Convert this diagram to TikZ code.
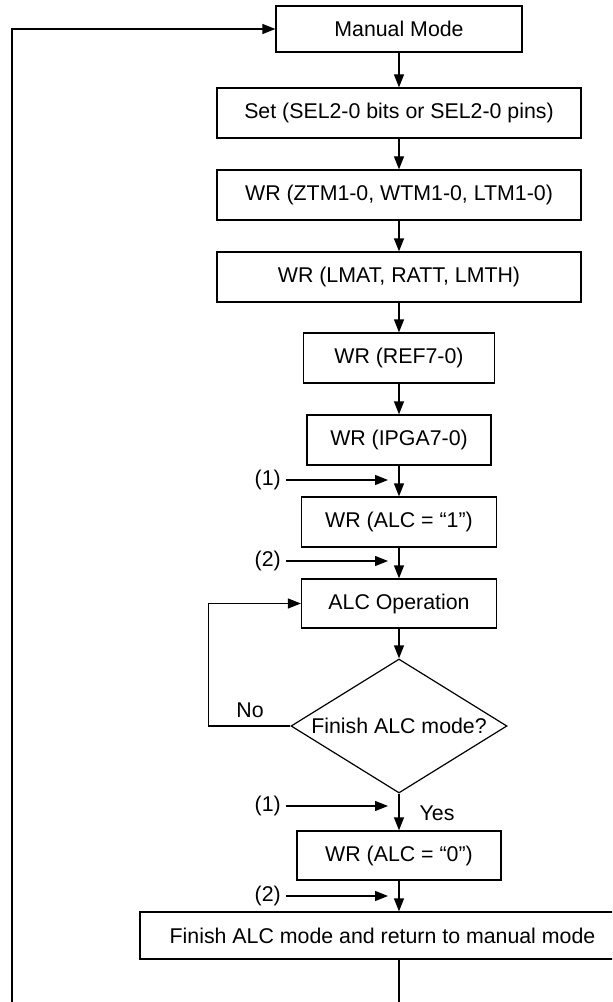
\documentclass[tikz,border=0pt]{standalone}
\usepackage{fontspec}
\setmainfont{Liberation Sans}
\usetikzlibrary{arrows.meta,shapes.geometric}
\begin{document}
\begin{tikzpicture}[x=0.75pt,y=-0.75pt,
  every node/.style={font=\fontsize{16}{19}\selectfont},
  box/.style={draw,line width=0.9pt,rectangle,inner sep=0pt,minimum height=37.5pt},
  arr/.style={line width=0.9pt,-{Triangle[length=9.75pt,width=7.5pt]}},
  ln/.style={line width=0.9pt},
  lbl/.style={inner sep=0pt,anchor=east}]
\useasboundingbox (0,0) rectangle (612,1002);
\clip (0,0) rectangle (612,1002);
\node[box,minimum width=184.5pt,minimum height=34.5pt] (manual) at (399,29) {Manual Mode};
\node[box,minimum width=273pt] (set) at (399,113) {Set (SEL2-0 bits or SEL2-0 pins)};
\node[box,minimum width=273pt] (ztm) at (399,195) {WR (ZTM1-0, WTM1-0, LTM1-0)};
\node[box,minimum width=273pt] (lmat) at (399,277) {WR (LMAT, RATT, LMTH)};
\node[box,minimum width=143.25pt] (ref) at (399,358) {WR (REF7-0)};
\node[box,minimum width=138pt] (ipga) at (399,440) {WR (IPGA7-0)};
\node[box,minimum width=146.25pt] (alc1) at (399,522) {WR (ALC = “1”)};
\node[box,minimum width=146.25pt,minimum height=36.75pt] (alcop) at (399,603.5) {ALC Operation};
\node[draw,line width=0.9pt,diamond,aspect=1.612,inner sep=0pt,minimum width=162pt,minimum height=100.5pt] (dia) at (399,726) {Finish ALC mode?};
\node[box,minimum width=153pt,minimum height=36.75pt] (wr0) at (399,855.5) {WR (ALC = “0”)};
\node[box,minimum width=363.75pt,minimum height=35.25pt] (fin) at (382.5,935.5) {Finish ALC mode and return to manual mode};

\draw[arr] (manual) -- (set);
\draw[arr] (set) -- (ztm);
\draw[arr] (ztm) -- (lmat);
\draw[arr] (lmat) -- (ref);
\draw[arr] (ref) -- (ipga);
\draw[arr] (ipga) -- (alc1);
\draw[arr] (alc1) -- (alcop);
\draw[arr] (alcop) -- (dia);
\draw[arr] (dia) -- (wr0);
\draw[arr] (wr0.south) -- (wr0.south |- fin.north);

% entry labels
\node[lbl] (l1a) at (281,480) {(1)};
\coordinate (t1a) at (388,480);
\draw[arr,shorten <=4pt] (l1a) -- (t1a);
\node[lbl] (l2a) at (281,561) {(2)};
\coordinate (t2a) at (388,561);
\draw[arr,shorten <=4pt] (l2a) -- (t2a);
\node[lbl] (l1b) at (281,806) {(1)};
\coordinate (t1b) at (388,806);
\draw[arr,shorten <=4pt] (l1b) -- (t1b);
\node[lbl] (l2b) at (281,896) {(2)};
\coordinate (t2b) at (388,896);
\draw[arr,shorten <=4pt] (l2b) -- (t2b);

% decision labels
\node (no) at (250,710) {No};
\node (yes) at (437,813) {Yes};

% No loop
\draw[arr] (dia.west) -- ++(-82,0) |- (alcop.west);

% return loop
\coordinate (b1) at (399,1012);
\coordinate (b2) at (12,1012);
\draw[arr] (fin.south -| wr0.south) -- (b1) -- (b2) |- (manual.west);
\end{tikzpicture}
\end{document}
